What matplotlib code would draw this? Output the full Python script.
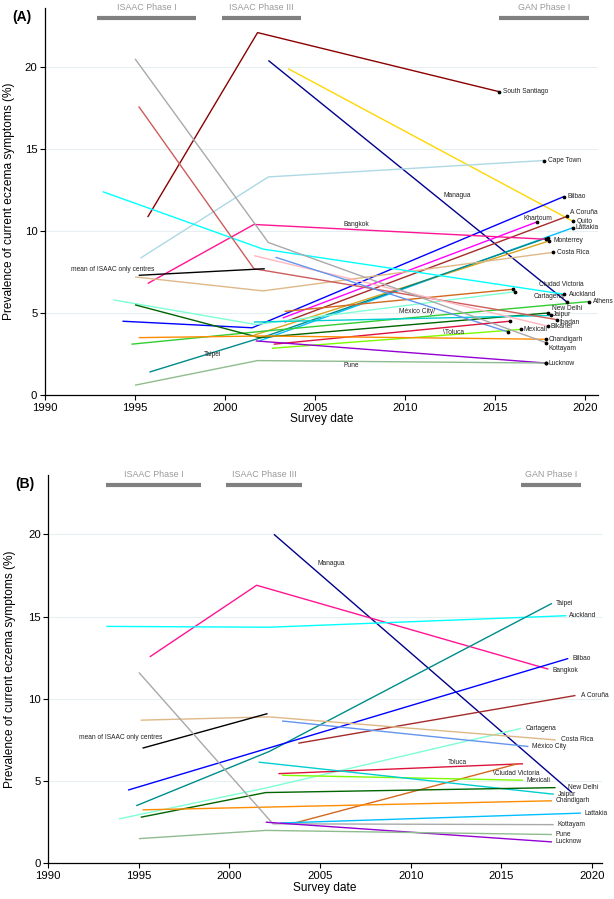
import matplotlib
matplotlib.use("Agg")
import matplotlib.pyplot as plt

plt.rcParams['font.family'] = ['Liberation Sans', 'DejaVu Sans']

# ---- panel A data ----
a_names = ["South Santiago", "Managua", "Quito", "Cape Town", "Bilbao", "A Coruña",
           "Khartoum", "Lattakia", "Monterrey", "Taipei", "Bangkok", "Costa Rica",
           "Ciudad Victoria", "Cartagena", "Auckland", "Athens", "New Delhi", "Jaipur",
           "Ibadan", "Bikaner", "Mexicali", "México City", "Toluca", "Chandigarh",
           "Kottayam", "Lucknow", "Pune", "mean"]
a_years = [[1995.7, 2001.8, 2015.2], [2002.4, 2019.0], [2003.5, 2019.3],
           [1995.3, 2002.4, 2017.7], [1994.3, 2001.5, 2018.8], [2003.3, 2019.0],
           [2003.2, 2017.3], [2001.9, 2019.3], [2001.6, 2018.0],
           [1995.8, 2002.3, 2017.9], [1995.7, 2001.6, 2017.8], [1995.0, 2002.1, 2018.2],
           [2003.3, 2016.0], [1993.8, 2001.7, 2016.1], [1993.2, 2002.1, 2018.8],
           [1994.8, 2002.2, 2020.2], [1995.0, 2001.9, 2017.9], [2001.6, 2018.1],
           [1995.2, 2001.6, 2018.4], [2001.6, 2017.9], [2002.6, 2016.4],
           [2002.8, 2015.7], [2002.7, 2015.8], [1995.2, 2002.2, 2017.8],
           [1995.0, 2002.4, 2017.8], [2001.7, 2017.8], [1995.0, 2001.8, 2017.8],
           [1995.2, 2002.2]]
a_vals = [[10.85, 22.1, 18.5], [20.4, 5.65], [19.9, 10.6],
          [8.35, 13.3, 14.3], [4.5, 4.1, 12.1], [4.45, 10.9],
          [4.7, 10.55], [3.3, 10.2], [3.65, 9.4],
          [1.4, 3.6, 9.6], [6.8, 10.4, 9.5], [7.2, 6.35, 8.7],
          [5.1, 6.45], [5.8, 4.3, 6.3], [12.4, 8.9, 6.15],
          [3.1, 3.9, 5.7], [5.5, 3.5, 5.0], [4.45, 4.85],
          [17.6, 7.7, 4.6], [8.5, 4.2], [2.85, 4.0],
          [8.4, 3.85], [3.1, 4.5], [3.5, 3.6, 3.4],
          [20.5, 9.3, 3.2], [3.3, 1.95], [0.6, 2.1, 1.95],
          [7.3, 7.7]]

# ---- panel B data ----
b_names = ["Managua", "Bangkok", "Auckland", "Taipei", "Bilbao", "A Coruña",
           "Cartagena", "Costa Rica", "México City", "mean", "Toluca",
           "Ciudad Victoria", "Mexicali", "Jaipur", "New Delhi", "Chandigarh",
           "Lattakia", "Kottayam", "Lucknow", "Pune"]
b_years = [[2002.45, 2018.9], [1995.6, 2001.5, 2017.6], [1993.2, 2002.2, 2018.6],
           [1994.85, 2002.2, 2017.8], [1994.4, 2018.7], [2003.8, 2019.1],
           [1993.9, 2002.1, 2016.1], [1995.1, 2002.2, 2018.0], [2002.9, 2016.5],
           [1995.2, 2002.1], [2002.7, 2016.2], [2003.6, 2015.9], [2002.9, 2016.2],
           [2001.6, 2017.9], [1995.1, 2002.0, 2018.0], [1995.2, 2017.8],
           [2002.8, 2019.4], [1995.0, 2002.4, 2017.9], [2002.0, 2017.8],
           [1995.0, 2002.0, 2017.8]]
b_vals = [[20.0, 4.3], [12.55, 16.9, 11.8], [14.4, 14.35, 15.05],
          [3.5, 6.8, 15.8], [4.45, 12.45], [7.3, 10.2],
          [2.7, 4.6, 8.2], [8.7, 8.9, 7.5], [8.65, 7.1],
          [7.0, 9.1], [5.45, 6.05], [2.45, 6.05], [5.35, 5.05],
          [6.15, 4.2], [2.8, 4.3, 4.6], [3.25, 3.8],
          [2.45, 3.05], [11.6, 2.4, 2.35], [2.5, 1.3],
          [1.5, 2.0, 1.75]]

phase_names = ["ISAAC Phase I", "ISAAC Phase III", "GAN Phase I"]
a_phase_start = [1992.9, 1999.8, 2015.2]
a_phase_end = [1998.4, 2004.2, 2020.2]
b_phase_start = [1993.2, 1999.8, 2016.1]
b_phase_end = [1998.45, 2004.0, 2019.4]

colors = {
    "South Santiago": "#8B0000", "Managua": "#00008B", "Quito": "#FFD700",
    "Cape Town": "#ADD8E6", "Bilbao": "#0000FF", "A Coruña": "#A52A2A",
    "Khartoum": "#FF00FF", "Lattakia": "#00BFFF", "Monterrey": "#DAA520",
    "Taipei": "#008B8B", "Bangkok": "#FF1493", "Costa Rica": "#DEB887",
    "Ciudad Victoria": "#D2691E", "Cartagena": "#7FFFD4", "Auckland": "#00FFFF",
    "Athens": "#32CD32", "New Delhi": "#006400", "Jaipur": "#00CED1",
    "Ibadan": "#CD5C5C", "Bikaner": "#FFB6C1", "Mexicali": "#7CFC00",
    "México City": "#6495ED", "Toluca": "#DC143C", "Chandigarh": "#FF8C00",
    "Kottayam": "#A9A9A9", "Lucknow": "#9400D3", "Pune": "#8FBC8F", "mean": "black",
}

# label placement: (anchor index, dx px, dy px, text)
a_labels = {
    "South Santiago": (-1, 4, 0, None), "Cape Town": (-1, 4, 0, None),
    "Managua": (-1, -124, -107, None), "Bilbao": (-1, 4, 0, None),
    "A Coruña": (-1, 3, -4, None), "Khartoum": (-1, -13, -4, None),
    "Quito": (-1, 4, 0, None), "Lattakia": (-1, 3, 0, None),
    "Monterrey": (-1, 4, 0, None), "Taipei": (0, 54, -18, None),
    "Bangkok": (-1, -202, -15, None), "Costa Rica": (-1, 4, 0, None),
    "Ciudad Victoria": (-1, 26, -5, None), "Cartagena": (-1, 18, 5, None),
    "Auckland": (-1, 5, 0, None), "Athens": (-1, 4, 0, None),
    "New Delhi": (-1, 4, -5, None), "Jaipur": (-1, 2, -1, None),
    "Ibadan": (-1, 3, 3, None), "Bikaner": (-1, 3, 0, None),
    "Mexicali": (-1, 3, 0, None), "México City": (-1, -109, -20, "México City/"),
    "Toluca": (-1, -67, 11, "\\Toluca"), "Chandigarh": (-1, 3, 0, None),
    "Kottayam": (-1, 3, 6, None), "Lucknow": (-1, 3, 0, None),
    "Pune": (-1, -202, 2, None), "mean": (0, -68, -6, "mean of ISAAC only centres"),
}
b_labels = {
    "Managua": (0, 44, 29, None), "Bangkok": (-1, 4, 1, None),
    "Auckland": (-1, 3, 0, None), "Taipei": (-1, 4, 0, None),
    "Bilbao": (-1, 4, 0, None), "A Coruña": (-1, 5, 0, None),
    "Cartagena": (-1, 4, 0, None), "Costa Rica": (-1, 5, 0, None),
    "México City": (-1, 4, 0, None), "mean": (0, -64, -11, "mean of ISAAC only centres"),
    "Toluca": (-1, -75, -1, None), "Ciudad Victoria": (-1, -25, 10, "\\Ciudad Victoria"),
    "Mexicali": (-1, 4, 0, None), "New Delhi": (-1, 12, 0, None),
    "Jaipur": (-1, 4, 0, None), "Chandigarh": (-1, 4, 0, None),
    "Lattakia": (-1, 4, 0, None), "Kottayam": (-1, 4, 0, None),
    "Pune": (-1, 4, 0, None), "Lucknow": (-1, 4, 0, None),
}


def draw_panel(ax, names, years, vals, labels, p_start, p_end, xmax, tag, dots, ylab_x):
    for yv in [5, 10, 15, 20]:
        ax.axhline(yv, color="#e6f0f3", lw=0.8, zorder=0)
    for n, xs, ys in zip(names, years, vals):
        ax.plot(xs, ys, color=colors[n], lw=1.0, zorder=2, solid_capstyle="butt")
        if dots and n != "mean":
            ax.plot(xs[-1], ys[-1], "o", color="black", ms=1.7, zorder=3)
        idx, dx, dy, txt = labels[n]
        ax.annotate(txt if txt else n, (xs[idx], ys[idx]),
                    xytext=(dx * 0.72, -dy * 0.72), textcoords="offset points",
                    fontsize=4.8, ha="left", va="center", color="#222222", zorder=4)
    for pn, s, e in zip(phase_names, p_start, p_end):
        ax.plot([s, e], [23.0, 23.0], color="#808080", lw=3, solid_capstyle="butt",
                clip_on=False)
        ax.text((s + e) / 2, 23.66, pn, ha="center", va="center", fontsize=6.4,
                color="#999999", clip_on=False)
    ax.set_xlim(1990, xmax)
    ax.set_ylim(0, 23.6)
    ax.set_xticks([1990, 1995, 2000, 2005, 2010, 2015, 2020])
    ax.set_yticks([0, 5, 10, 15, 20])
    ax.tick_params(labelsize=8.2, length=3.5, width=0.8, direction="out", pad=2)
    for s in ["top", "right"]:
        ax.spines[s].set_visible(False)
    for s in ["left", "bottom"]:
        ax.spines[s].set_linewidth(0.9)
    ax.set_xlabel("Survey date", fontsize=8.6, labelpad=0.5)
    ax.set_ylabel("Prevalence of current eczema symptoms (%)", fontsize=8.6)
    ax.yaxis.set_label_coords(ylab_x, 0.5)
    ax.text(-0.042, 0.995, tag, transform=ax.transAxes, fontsize=10, fontweight="bold",
            ha="center", va="top")


fig = plt.figure(figsize=(6.14, 8.99), dpi=100)
ax_a = fig.add_axes([0.0733, 0.5606, 0.9007, 0.4305])
ax_b = fig.add_axes([0.0787, 0.0397, 0.9017, 0.4319])

draw_panel(ax_a, a_names, a_years, a_vals, a_labels, a_phase_start, a_phase_end,
           2020.7, "(A)", True, -0.055)
draw_panel(ax_b, b_names, b_years, b_vals, b_labels, b_phase_start, b_phase_end,
           2020.56, "(B)", False, -0.058)

fig.savefig("out.png", dpi=100)
